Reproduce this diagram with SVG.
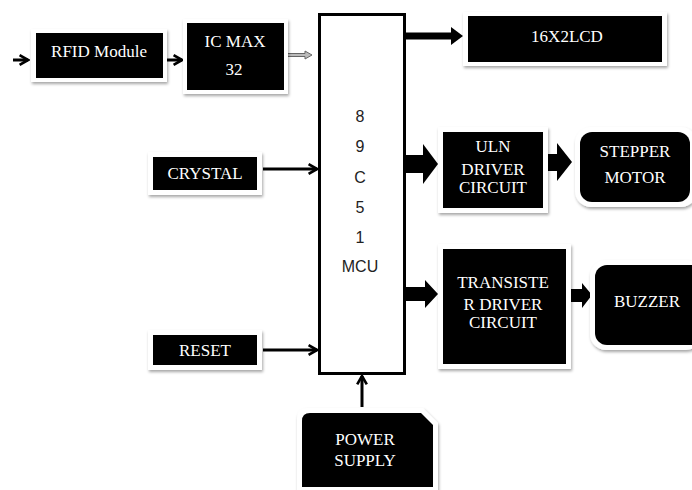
<svg xmlns="http://www.w3.org/2000/svg" width="692" height="490" viewBox="0 0 692 490">
<defs>
<filter id="sh" x="-20%" y="-20%" width="140%" height="150%">
<feDropShadow dx="1" dy="2" stdDeviation="1.6" flood-color="#000" flood-opacity="0.35"/>
</filter>
<marker id="chev" viewBox="0 0 10 10" refX="8" refY="5" markerWidth="4" markerHeight="4" orient="auto" markerUnits="strokeWidth">
<path d="M1,1 L8,5 L1,9" fill="none" stroke="#000" stroke-width="2.2"/>
</marker>
</defs>
<style>
.frame{fill:#fff;filter:url(#sh)}
.blk{fill:#000}
.t{font-family:"Liberation Serif","Times New Roman",serif;font-size:17px;fill:#fff;text-anchor:middle}
.m{font-family:"Liberation Sans",Arial,sans-serif;font-size:16px;fill:#222;text-anchor:middle}
.ln{stroke:#000;stroke-width:3;fill:none}
.ba{fill:#000}
</style>
<rect width="692" height="490" fill="#fff"/>

<g id="connectors">
<line class="ln" x1="13" y1="60" x2="28" y2="60" marker-end="url(#chev)"/>
<line class="ln" x1="167" y1="60" x2="182" y2="60" marker-end="url(#chev)"/>
<polygon points="287,53.5 305,53.5 305,51 312,55 305,59 305,56.5 287,56.5" fill="#bbb" stroke="#666" stroke-width="1"/>
<line x1="405" y1="36" x2="453" y2="36" stroke="#000" stroke-width="7"/>
<polygon class="ba" points="451,27 463,36 451,45"/>
<polygon class="ba" points="405,155 423,155 423,144 438,164 423,184 423,173 405,173"/>
<polygon class="ba" points="543,154 557,154 557,143 572,162 557,181 557,171 543,171"/>
<polygon class="ba" points="405,287 425,287 425,280 438,294 425,308 425,301 405,301"/>
<polygon class="ba" points="567,289 582,289 582,283 592,295 582,308 582,302 567,302"/>
<line class="ln" x1="263" y1="169" x2="317" y2="169" marker-end="url(#chev)"/>
<line class="ln" x1="263" y1="350" x2="317" y2="350" marker-end="url(#chev)"/>
<line class="ln" x1="362" y1="407" x2="362" y2="376" marker-end="url(#chev)"/>
</g>

<g id="mcu">
<rect x="319.5" y="14.5" width="85" height="359" fill="#fff" stroke="#000" stroke-width="3"/>
<text class="m" x="360" y="122">8</text>
<text class="m" x="360" y="152">9</text>
<text class="m" x="360" y="183">C</text>
<text class="m" x="360" y="213">5</text>
<text class="m" x="360" y="243">1</text>
<text class="m" x="360" y="272">MCU</text>
</g>

<g id="rfid">
<rect class="frame" x="31" y="29" width="136" height="53"/>
<rect class="blk" x="36" y="33" width="127" height="45"/>
<text class="t" x="99" y="57">RFID Module</text>
</g>

<g id="icmax">
<rect class="frame" x="183" y="19" width="105" height="75"/>
<rect class="blk" x="187" y="23" width="97" height="67"/>
<text class="t" x="235" y="47">IC MAX</text>
<text class="t" x="234" y="75">32</text>
</g>

<g id="lcd">
<rect class="frame" x="463" y="12" width="204" height="54"/>
<rect class="blk" x="468" y="16" width="194" height="46"/>
<text class="t" x="567" y="42">16X2LCD</text>
</g>

<g id="uln">
<rect class="frame" x="438" y="127" width="110" height="86"/>
<rect class="blk" x="443" y="132" width="100" height="76"/>
<text class="t" x="493" y="152">ULN</text>
<text class="t" x="493" y="175">DRIVER</text>
<text class="t" x="493" y="193">CIRCUIT</text>
</g>

<g id="stepper">
<rect class="frame" x="575" y="127" width="122" height="80" rx="16"/>
<rect class="blk" x="580" y="132" width="110" height="70" rx="12"/>
<text class="t" x="635" y="157">STEPPER</text>
<text class="t" x="635" y="183">MOTOR</text>
</g>

<g id="transister">
<rect class="frame" x="438" y="244" width="133" height="125"/>
<rect class="blk" x="443" y="249" width="123" height="115"/>
<text class="t" x="503" y="288">TRANSISTE</text>
<text class="t" x="503" y="310">R DRIVER</text>
<text class="t" x="503" y="328">CIRCUIT</text>
</g>

<g id="buzzer">
<rect class="frame" x="590" y="260" width="112" height="90" rx="16"/>
<rect class="blk" x="595" y="265" width="110" height="80" rx="12"/>
<text class="t" x="647" y="307">BUZZER</text>
</g>

<g id="crystal">
<rect class="frame" x="148" y="152" width="114" height="43"/>
<rect class="blk" x="153" y="157" width="104" height="33"/>
<text class="t" x="205" y="179">CRYSTAL</text>
</g>

<g id="reset">
<rect class="frame" x="148" y="330" width="114" height="40"/>
<rect class="blk" x="153" y="335" width="104" height="30"/>
<text class="t" x="205" y="356">RESET</text>
</g>

<g id="power">
<path class="frame" d="M297,492 V419 Q297,408 308,408 H423 L438,423 V492 Z"/>
<path class="blk" d="M302,487 V421 Q302,413 310,413 H421 L433,425 V487 Z"/>
<text class="t" x="365" y="445">POWER</text>
<text class="t" x="365" y="466">SUPPLY</text>
</g>
</svg>
